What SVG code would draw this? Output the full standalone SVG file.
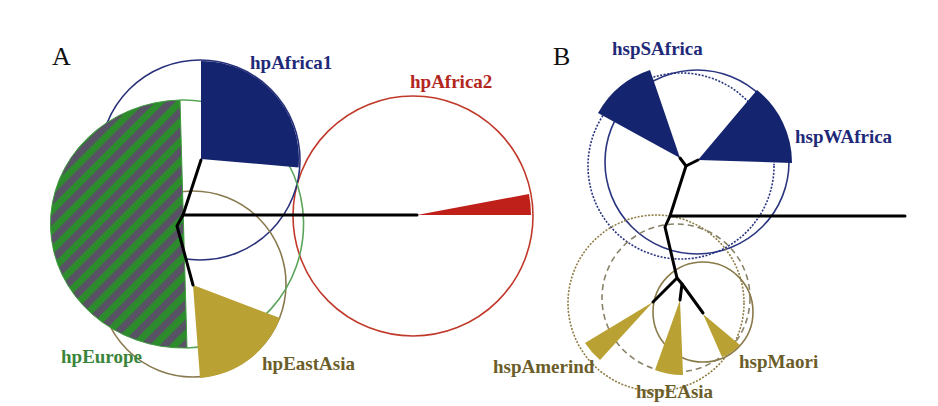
<svg xmlns="http://www.w3.org/2000/svg" width="938" height="406" viewBox="0 0 938 406">
<style>
.lbl{font-family:"Liberation Serif","Times New Roman",serif;font-weight:bold;font-size:19px}
.big{font-family:"Liberation Serif","Times New Roman",serif;font-size:26px;fill:#111}
.navy{fill:#1e2a78}.red{fill:#b3261e}.grn{fill:#3a853a}.olv{fill:#6b5d2a}
.circ{fill:none;stroke-width:1.6}
.tree{fill:none;stroke:#000;stroke-width:3;stroke-linejoin:round;stroke-linecap:round}
.wn{fill:#14246e}.wy{fill:#b9a233}
</style>
<defs>
<pattern id="hatch" patternUnits="userSpaceOnUse" width="14" height="14" patternTransform="rotate(45)">
<rect x="0" y="0" width="7" height="14" fill="#2d8a2d"/>
<rect x="7" y="0" width="7" height="14" fill="#575264"/>
</pattern>
</defs>
<rect width="938" height="406" fill="#fff"/>
<text class="big" x="52" y="65">A</text>
<text class="big" x="553" y="65">B</text>

<!-- Panel A -->
<g id="hpAfrica2">
<circle class="circ" cx="413" cy="216" r="120" stroke="#c0392b"/>
<path d="M417,215 L531,215 A114,114 0 0,0 529,194 Z" fill="#c0201a"/>
<text class="lbl red" x="410" y="88">hpAfrica2</text>
</g>
<g id="hpAfrica1">
<circle class="circ" cx="200" cy="160" r="100" stroke="#27307a"/>
</g>
<g id="hpEastAsia">
<circle class="circ" cx="193" cy="284" r="93" stroke="#8a7a50"/>
</g>
<g id="hpEurope">
<path d="M180,100 A120,124 0 0,1 187,348" fill="none" stroke="#5aa55a" stroke-width="1.6"/>
<path d="M180,100 A133,124 0 0,0 187,348 Z" fill="url(#hatch)" stroke="#3d9a3d" stroke-width="1"/>
<text class="lbl grn" x="61" y="363">hpEurope</text>
</g>
<g id="hpAfrica1-wedge">
<path class="wn" d="M201,159 L201,61 A98,98 0 0,1 298.6,167.5 Z"/>
<text class="lbl navy" x="250" y="69">hpAfrica1</text>
</g>
<g id="hpEastAsia-wedge">
<path class="wy" d="M193,285 L280,318 A93,93 0 0,1 200,378 Z"/>
<text class="lbl olv" x="262" y="370">hpEastAsia</text>
</g>

<!-- Panel B -->
<g id="hspAfrica-circles">
<circle class="circ" cx="681" cy="166" r="93" stroke="#2a3580" stroke-dasharray="2 1.5"/>
<circle class="circ" cx="697" cy="162" r="92" stroke="#2a3580"/>
</g>
<g id="hspAsia-circles">
<circle class="circ" cx="656" cy="303" r="88" stroke="#8f7d45" stroke-dasharray="2 1.5"/>
<circle class="circ" cx="676" cy="298" r="74" stroke="#8a8268" stroke-dasharray="6 4"/>
<circle class="circ" cx="703" cy="312" r="50" stroke="#8a7a4a"/>
</g>
<g id="hspSAfrica">
<path class="wn" d="M680,158 L598,113 A93,93 0 0,1 650,70 Z"/>
<text class="lbl navy" x="612" y="55">hspSAfrica</text>
</g>
<g id="hspWAfrica">
<path class="wn" d="M698,160 L757,90 A93,93 0 0,1 792,163 Z"/>
<text class="lbl navy" x="795" y="143">hspWAfrica</text>
</g>
<g id="hspAmerind">
<path class="wy" d="M653,302 L600,360 A79,79 0 0,1 585,343 Z"/>
<text class="lbl olv" x="493" y="373">hspAmerind</text>
</g>
<g id="hspEAsia">
<path class="wy" d="M680,300 L683,375 A75,75 0 0,1 655,370 Z"/>
<text class="lbl olv" x="636" y="398">hspEAsia</text>
</g>
<g id="hspMaori">
<path class="wy" d="M703,314 L740,345 A47,47 0 0,1 722,357 Z"/>
<text class="lbl olv" x="739" y="368">hspMaori</text>
</g>

<g id="connectors">
<polyline class="tree" points="201,160 183,215 177,226 193,285"/>
<line class="tree" x1="183" y1="215" x2="417" y2="215" stroke-linecap="butt"/>
<polyline class="tree" points="680,158 686,166 698,160"/>
<polyline class="tree" points="686,166 670,216 665,227 677,278 653,302"/>
<polyline class="tree" points="677,278 682,284 680,300"/>
<line class="tree" x1="682" y1="284" x2="703" y2="313"/>
<line class="tree" x1="670" y1="216" x2="905" y2="216" stroke-linecap="butt"/>
</g>
</svg>
